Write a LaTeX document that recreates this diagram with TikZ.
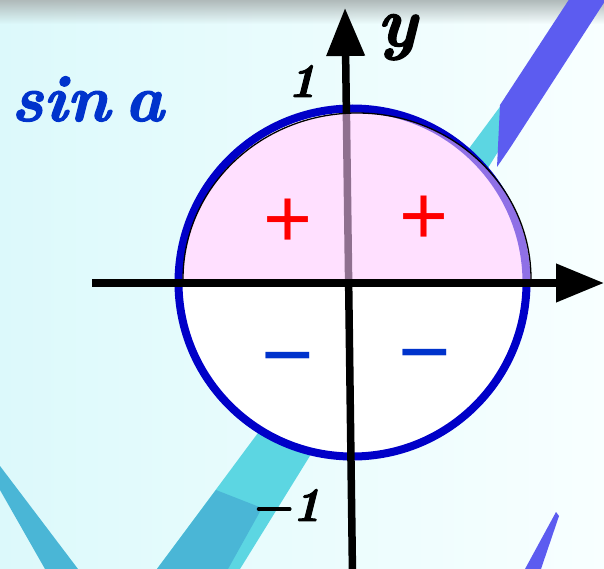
\documentclass[tikz,border=0pt]{standalone}
\usepackage{fontspec}
\newfontfamily\signfont{Liberation Sans}
\newfontface\lblfont{lmroman10-bolditalic.otf}[FakeBold=2, WordSpace=0.55]
\usetikzlibrary{arrows.meta,fadings}
\definecolor{ringblue}{RGB}{0,0,200}
\definecolor{txtblue}{RGB}{0,51,204}
\definecolor{pinkfill}{RGB}{255,200,255}
\definecolor{stripecyan}{RGB}{92,214,226}
\definecolor{stripeteal}{RGB}{74,182,214}
\definecolor{stripeblue}{RGB}{92,92,240}
\definecolor{bgcyan}{RGB}{220,249,251}
\definecolor{bgwhite}{RGB}{248,255,255}
\definecolor{topgray}{RGB}{176,186,186}
\begin{document}
\begin{tikzpicture}[x=1pt,y=-1pt,
  axis/.style={line width=7.5pt, black},
  tip/.style={-{Triangle[length=48pt,width=37pt]}},
  ring/.style={line width=8pt, ringblue},
  lbl/.style={inner sep=0pt, anchor=base},
  sign/.style={inner sep=0pt, anchor=base},
]
% background
\useasboundingbox (0,0) rectangle (604,569);
\shade[left color=bgcyan, right color=bgwhite] (0,0) rectangle (604,569);
\fill[topgray, path fading=south] (0,0) rectangle (604,24);
% stripes
\fill[stripecyan] (157,569) -- (240,569) -- (530,100) -- (505,100) -- cycle;
\fill[stripeteal] (157,569) -- (228,569) -- (262,508) -- (216,490) -- cycle;
\fill[stripeteal] (0,466) -- (78,569) -- (45,569) -- (0,490) -- cycle;
\fill[stripeblue] (570,-2) -- (500,105) -- (497,167) -- (510,148) -- (607,-2) -- cycle;
\fill[stripeblue] (556,512) -- (559,516) -- (541,569) -- (525,569) -- cycle;
% circle
\coordinate (O) at (352.5,282.5);
\fill[white] (O) circle[radius=176];
\draw[ring] (O) circle[radius=174];
% vertical axis
\coordinate (yb) at (352.5,575);
\coordinate (yt) at (345,8);
\draw[axis,tip] (yb) -- (yt);
% upper half
\coordinate (hl) at (183,279);
\fill[pinkfill, fill opacity=0.56] (hl) arc[start angle=180,end angle=360,x radius=174,y radius=166] -- cycle;
\draw[black, line width=1.3pt] (hl) arc[start angle=180,end angle=360,x radius=174,y radius=166];
% horizontal axis
\coordinate (xl) at (92,283);
\coordinate (xr) at (604,283);
\draw[axis,tip] (xl) -- (xr);
% labels
\node[lbl, anchor=base west, text=txtblue, font=\lblfont\fontsize{66}{66}\selectfont] (sina) at (11,121) {sin a};
\node[lbl, font=\lblfont\fontsize{70}{70}\selectfont] (ylab) at (397,46) {y};
\node[lbl, font=\lblfont\fontsize{48}{48}\selectfont] (one) at (302,97) {1};
\node[lbl, anchor=base east, font=\lblfont\fontsize{48}{48}\selectfont] (mone) at (321,521) {\char"2212 1};
\node[sign, text=red, font=\signfont\fontsize{84}{84}\selectfont] (p1) at (288,247.4) {+};
\node[sign, text=red, font=\signfont\fontsize{84}{84}\selectfont] (p2) at (424,244.4) {+};
\node[sign, text=txtblue, font=\signfont\fontsize{90}{90}\selectfont] (m1) at (287.5,385.6) {\char"2212};
\node[sign, text=txtblue, font=\signfont\fontsize{90}{90}\selectfont] (m2) at (424.5,382.6) {\char"2212};
\end{tikzpicture}
\end{document}
